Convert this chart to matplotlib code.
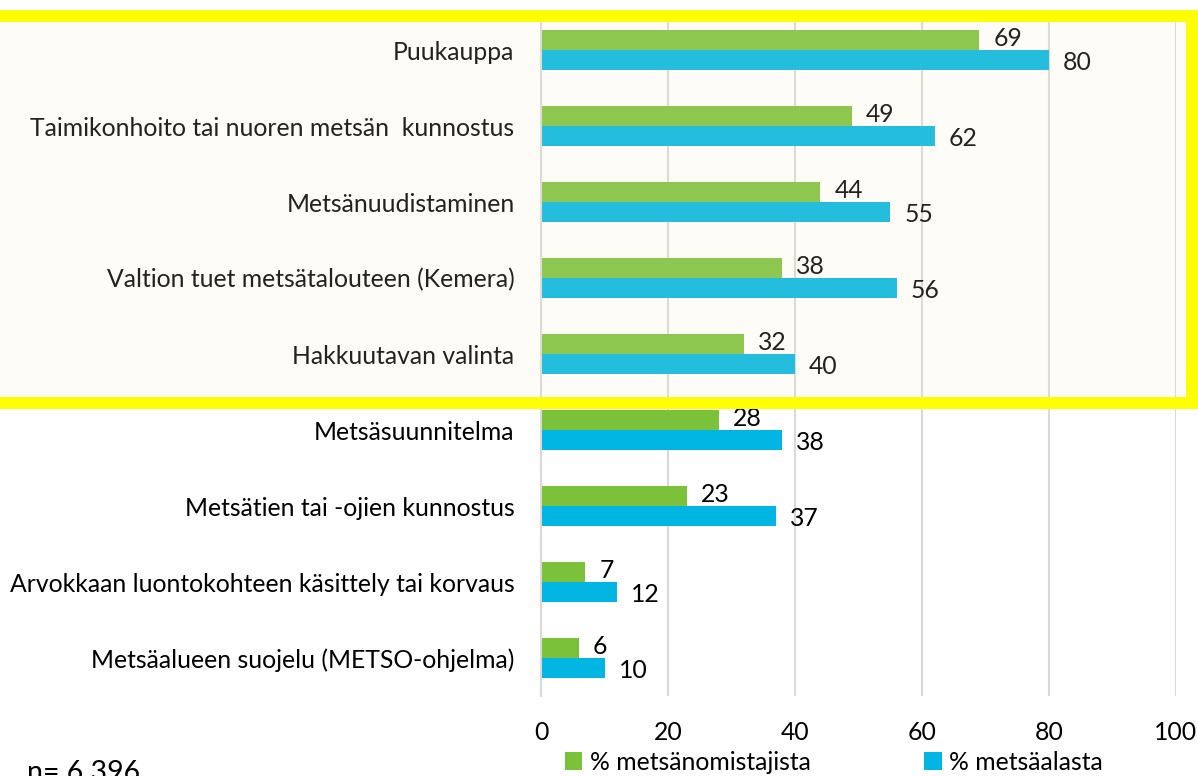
import matplotlib
matplotlib.use("Agg")
import matplotlib.pyplot as plt
from matplotlib.patches import Rectangle, Patch
import numpy as np

categories = [
    "Puukauppa",
    "Taimikonhoito tai nuoren metsän  kunnostus",
    "Metsänuudistaminen",
    "Valtion tuet metsätalouteen (Kemera)",
    "Hakkuutavan valinta",
    "Metsäsuunnitelma",
    "Metsätien tai -ojien kunnostus",
    "Arvokkaan luontokohteen käsittely tai korvaus",
    "Metsäalueen suojelu (METSO-ohjelma)",
]
owners = [69, 49, 44, 38, 32, 28, 23, 7, 6]
area = [80, 62, 55, 56, 40, 38, 37, 12, 10]
series_names = ["% metsänomistajista", "% metsäalasta"]
xticks = [0, 20, 40, 60, 80, 100]

GREEN = "#7CC13A"
BLUE = "#00B5E2"
FONT = ["Lato", "DejaVu Sans"]
plt.rcParams["font.family"] = FONT
FS = 17.8

W, H = 1198, 776
fig = plt.figure(figsize=(W / 100, H / 100), dpi=100)
ax = fig.add_axes([541 / W, 1 - 696 / H, (1176 - 541) / W, (696 - 12) / H])

n = len(categories)
y = np.arange(n)
bh = 0.26
ax.barh(y - bh / 2, owners, height=bh, color=GREEN, zorder=2)
ax.barh(y + bh / 2, area, height=bh, color=BLUE, zorder=2)

for i in range(n):
    ax.annotate(str(owners[i]), (owners[i], y[i] - bh / 2), xytext=(14, 2),
                textcoords="offset pixels", ha="left", va="center", fontsize=FS, color="black")
    ax.annotate(str(area[i]), (area[i], y[i] + bh / 2), xytext=(14, -3),
                textcoords="offset pixels", ha="left", va="center", fontsize=FS, color="black")

ax.set_ylim(n - 0.5, -0.5)
ax.set_xlim(0, 100)
ax.set_xticks(xticks)
ax.set_xticklabels([str(t) for t in xticks], fontsize=FS)
ax.set_yticks(y)
ax.set_yticklabels(categories, fontsize=FS)
ax.tick_params(axis="both", length=0)
ax.tick_params(axis="x", pad=18)
ax.tick_params(axis="y", pad=19)
ax.grid(axis="x", color="#D9D9D9", linewidth=1.5, zorder=0)
for s in ["top", "right", "bottom"]:
    ax.spines[s].set_visible(False)
ax.spines["left"].set_color("#D9D9D9")
ax.spines["left"].set_linewidth(1.5)
ax.set_axisbelow(True)

# highlight box (overlay + yellow border)
x1 = 1192 / W
yt = 1 - 16 / H
yb = 1 - 403 / H
fig.patches.append(Rectangle((-0.02, yb), x1 + 0.02, yt - yb, transform=fig.transFigure,
                             facecolor="#F2EBCA", alpha=0.15, edgecolor="none", zorder=5))
fig.patches.append(Rectangle((-0.02, yb), x1 + 0.02, yt - yb, transform=fig.transFigure,
                             facecolor="none", edgecolor="#FFFF00", linewidth=8.6, zorder=6,
                             clip_on=False))

handles = [Patch(facecolor=GREEN, label=series_names[0]),
           Patch(facecolor=BLUE, label=series_names[1])]
fig.legend(handles=handles, loc="center left", bbox_to_anchor=(565 / W, 1 - 762 / H),
           ncol=2, frameon=False, fontsize=FS, handlelength=0.7, handleheight=0.7,
           handletextpad=0.3, columnspacing=4.6, borderpad=0, borderaxespad=0)

fig.text(27 / W, -0.006, "n= 6 396", fontsize=20.5, ha="left", va="baseline")

fig.savefig("out.png", dpi=100)
